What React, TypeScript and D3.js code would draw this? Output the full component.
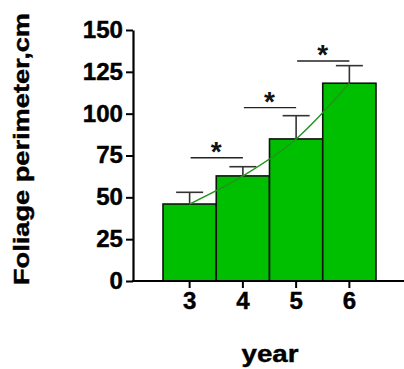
import * as d3 from 'd3';
import React, { useRef, useEffect } from 'react';

const years = ['3', '4', '5', '6'];
const means = [46, 62.8, 84.9, 118.2];
const sds = [7, 5.5, 13.9, 10.5];
const yTicks = [0, 25, 50, 75, 100, 125, 150];
// significance brackets: [from year, to year, level]
const sigPairs: [string, string, number][] = [
    ['3', '4', 73.7],
    ['4', '5', 103.6],
    ['5', '6', 131.5],
];

const App: React.FC = () => {
    const svgRef = useRef<SVGSVGElement | null>(null);

    useEffect(() => {
        const width = 404;
        const height = 369;
        const axisX = 133;

        const svg = d3.select(svgRef.current)
            .attr('width', width)
            .attr('height', height);
        svg.selectAll('*').remove();

        svg.append('rect')
            .attr('width', width)
            .attr('height', height)
            .attr('fill', '#FFFFFF');

        const font = '"Liberation Sans", Arial, sans-serif';

        const xScale = d3.scaleBand()
            .domain(years)
            .range([163, 376])
            .padding(0);

        const yScale = d3.scaleLinear()
            .domain([0, 150])
            .range([281, 30]);

        const cx = (y: string) => xScale(y)! + xScale.bandwidth() / 2;

        // bars
        svg.append('g')
            .selectAll('rect')
            .data(means)
            .enter()
            .append('rect')
            .attr('x', (d, i) => xScale(years[i])!)
            .attr('y', d => yScale(d))
            .attr('width', xScale.bandwidth())
            .attr('height', d => yScale(0) - yScale(d))
            .attr('fill', '#00be00')
            .attr('stroke', '#111')
            .attr('stroke-width', 1.6);

        // error bars
        const eb = svg.append('g')
            .attr('stroke', '#333')
            .attr('stroke-width', 1.6);
        means.forEach((m, i) => {
            const x = cx(years[i]);
            eb.append('line')
                .attr('x1', x).attr('x2', x)
                .attr('y1', yScale(m)).attr('y2', yScale(m + sds[i]));
            eb.append('line')
                .attr('x1', x - 13.5).attr('x2', x + 13.5)
                .attr('y1', yScale(m + sds[i])).attr('y2', yScale(m + sds[i]));
        });

        // trend line through the means
        const line = d3.line<number>()
            .x((d, i) => cx(years[i]))
            .y(d => yScale(d))
            .curve(d3.curveMonotoneX);
        svg.append('path')
            .datum(means)
            .attr('d', line)
            .attr('fill', 'none')
            .attr('stroke', '#1f961f')
            .attr('stroke-width', 1.4);

        // significance brackets
        const sig = svg.append('g');
        sigPairs.forEach(([a, b, lvl]) => {
            sig.append('line')
                .attr('x1', cx(a) + 1).attr('x2', cx(b))
                .attr('y1', yScale(lvl)).attr('y2', yScale(lvl))
                .attr('stroke', '#222')
                .attr('stroke-width', 1.4);
            sig.append('text')
                .attr('x', (cx(a) + cx(b)) / 2)
                .attr('y', yScale(lvl) + 3)
                .attr('text-anchor', 'middle')
                .attr('font-family', font)
                .attr('font-weight', 'bold')
                .attr('font-size', 28)
                .attr('fill', '#111')
                .text('*');
        });

        // y axis
        const yAxis = svg.append('g')
            .attr('transform', `translate(${axisX},0)`)
            .call(d3.axisLeft(yScale).tickValues(yTicks).tickSize(7).tickSizeOuter(0).tickPadding(3));
        yAxis.select('.domain').attr('stroke', '#000').attr('stroke-width', 2.2);
        yAxis.selectAll('.tick line').attr('stroke', '#000').attr('stroke-width', 2);
        yAxis.selectAll('.tick text')
            .attr('font-family', font)
            .attr('font-weight', 'bold')
            .attr('font-size', 23)
            .attr('fill', '#000')
            .attr('stroke', '#000')
            .attr('stroke-width', 0.4)
            .attr('textLength', (d: any) => String(d).length * 13.4)
            .attr('lengthAdjust', 'spacingAndGlyphs');

        // x axis
        const xAxis = svg.append('g')
            .attr('transform', `translate(0,${yScale(0)})`)
            .call(d3.axisBottom(xScale).tickSize(7).tickSizeOuter(0).tickPadding(5));
        xAxis.select('.domain').remove();
        xAxis.selectAll('.tick line').attr('stroke', '#000').attr('stroke-width', 2);
        xAxis.selectAll('.tick text')
            .attr('font-family', font)
            .attr('font-weight', 'bold')
            .attr('font-size', 23)
            .attr('fill', '#000')
            .attr('stroke', '#000')
            .attr('stroke-width', 0.4)
            .attr('textLength', 13.4)
            .attr('lengthAdjust', 'spacingAndGlyphs');
        svg.append('line')
            .attr('x1', axisX - 1).attr('x2', width)
            .attr('y1', yScale(0)).attr('y2', yScale(0))
            .attr('stroke', '#000')
            .attr('stroke-width', 2.2);

        // axis titles
        svg.append('text')
            .attr('x', 270)
            .attr('y', 362)
            .attr('text-anchor', 'middle')
            .attr('font-family', font)
            .attr('font-weight', 'bold')
            .attr('font-size', 24)
            .attr('stroke', '#000')
            .attr('stroke-width', 0.4)
            .attr('textLength', 57)
            .attr('lengthAdjust', 'spacingAndGlyphs')
            .text('year');

        svg.append('text')
            .attr('transform', 'rotate(-90)')
            .attr('x', -149)
            .attr('y', 29)
            .attr('text-anchor', 'middle')
            .attr('font-family', font)
            .attr('font-weight', 'bold')
            .attr('font-size', 22)
            .attr('stroke', '#000')
            .attr('stroke-width', 0.4)
            .attr('textLength', 272)
            .attr('lengthAdjust', 'spacingAndGlyphs')
            .text('Foliage perimeter,cm');
    }, []);

    return (
        <svg ref={svgRef} style={{ position: 'absolute', left: 0, top: 0 }}></svg>
    );
};

export default App;
